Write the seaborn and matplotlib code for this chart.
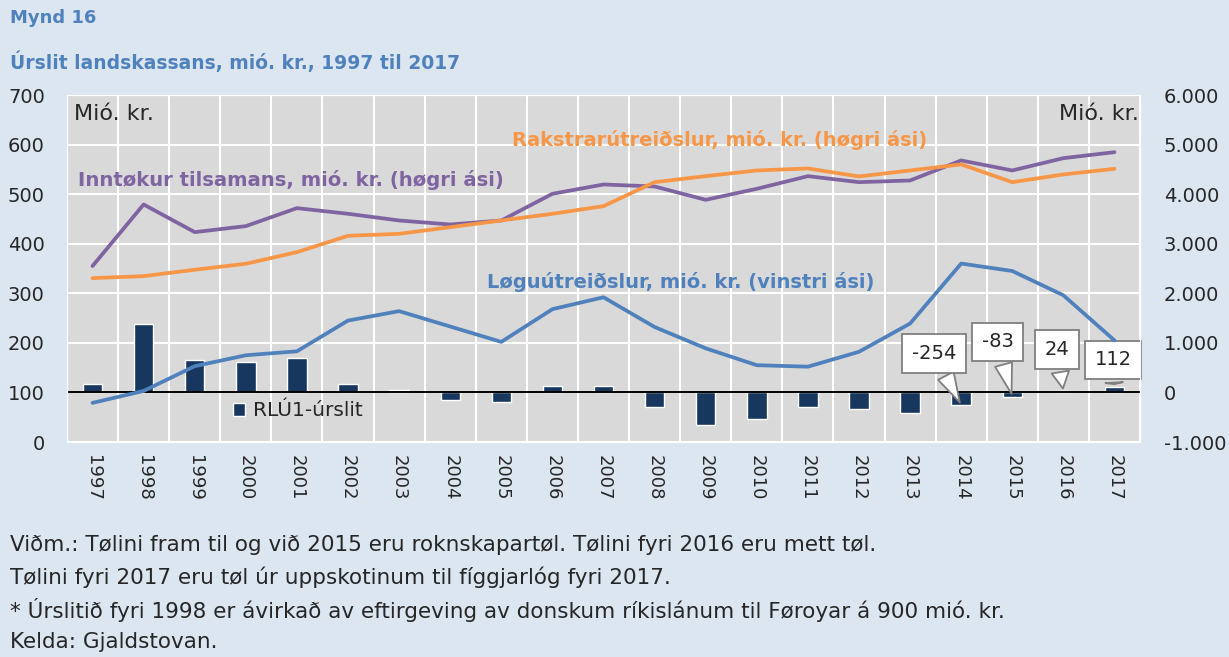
import numpy as np
import pandas as pd
import matplotlib.pyplot as plt
import seaborn as sns
from matplotlib.ticker import FuncFormatter

years = [str(y) for y in range(1997, 2018)]
rlu_result = [175, 1385, 660, 611, 700, 175, 50, -145, -185, 135, 135,
              -296, -665, -545, -296, -343, -417, -254, -83, 24, 112]
revenue = [2550, 3792, 3234, 3355, 3718, 3604, 3469, 3388, 3469, 4007, 4195,
           4155, 3886, 4108, 4363, 4242, 4276, 4680, 4478, 4726, 4847]
operating = [2306, 2346, 2475, 2596, 2830, 3160, 3200, 3334, 3469, 3604, 3758,
             4242, 4363, 4478, 4518, 4357, 4478, 4600, 4242, 4397, 4512]
investment = [79, 103, 153, 175, 183, 245, 264, 233, 202, 268, 292,
              232, 189, 155, 152, 182, 239, 360, 345, 296, 205]
callout_years = ["2014", "2015", "2016", "2017"]
# where the callout boxes sit: (shift in categories, height on right axis)
callout_box = {"2014": (-0.53, 787), "2015": (-0.29, 1019),
               "2016": (-0.13, 867), "2017": (-0.03, 655)}

df = pd.DataFrame({"year": years, "pos": np.arange(len(years)),
                   "rlu": rlu_result, "revenue": revenue,
                   "operating": operating, "investment": investment})

sns.set_style("white")
plt.rcParams["font.family"] = ["DejaVu Sans"]

bg = "#DCE6F1"
blue_txt = "#4F81BD"
c_bar = "#17375E"
c_purple = "#8064A2"
c_orange = "#F79646"
c_blue = "#4F81BD"

fig = plt.figure(figsize=(12.29, 6.57), dpi=100, facecolor=bg)
ax = fig.add_axes([0.0545, 0.3272, 0.8731, 0.5282])
ax2 = ax.twinx()
ax.set_zorder(2)
ax2.set_zorder(1)
ax.patch.set_visible(False)
ax2.patch.set_visible(True)
ax2.patch.set_facecolor("#D9D9D9")

# right axis: result bars and the two big series
sns.barplot(data=df, x="pos", y="rlu", ax=ax2, color=c_bar, width=0.38,
            saturation=1, native_scale=True, label="RLÚ1-úrslit", zorder=2)
sns.lineplot(data=df, x="pos", y="revenue", ax=ax2, color=c_purple, lw=2.7, zorder=3)
sns.lineplot(data=df, x="pos", y="operating", ax=ax2, color=c_orange, lw=2.7, zorder=3)
ax2.axhline(0, color="black", lw=1.4, zorder=2.5)

# left axis: investment line
sns.lineplot(data=df, x="pos", y="investment", ax=ax, color=c_blue, lw=2.7)

ax.set_xlim(-0.5, len(years) - 0.5)
ax.set_ylim(0, 700)
ax2.set_ylim(-1000, 6000)
ax.set_yticks(range(0, 701, 100))
ax2.set_yticks(range(-1000, 6001, 1000))
ax2.yaxis.set_major_formatter(FuncFormatter(lambda v, p: f"{int(v):,}".replace(",", ".")))
ax.set_xticks(df["pos"])
ax.set_xticks(np.arange(-0.5, len(years)), minor=True)
ax.set_xticklabels(years, rotation=-90, fontsize=13)
ax.set_xlabel("")
ax.set_ylabel("")
ax2.set_xlabel("")
ax2.set_ylabel("")
ax.tick_params(axis="both", which="both", length=0)
ax.tick_params(axis="y", labelsize=14, pad=16)
ax.tick_params(axis="x", pad=9)
ax2.tick_params(axis="y", length=0, labelsize=14, pad=17)
ax2.xaxis.set_visible(True)
ax2.tick_params(axis="x", which="both", length=0, labelbottom=False, labeltop=False)
ax2.grid(axis="y", which="major", color="white", lw=1.5, zorder=0)
ax2.grid(axis="x", which="minor", color="white", lw=1.5, zorder=0)
ax2.set_axisbelow(True)
for a in (ax, ax2):
    for s in a.spines.values():
        s.set_color("white")

# callouts for the last four years
for yr in callout_years:
    i = years.index(yr)
    v = rlu_result[i]
    dx, hy = callout_box[yr]
    ax2.annotate(f"{v}", xy=(i, v), xytext=(i + dx, hy),
                 ha="center", va="center", fontsize=14, zorder=5,
                 bbox=dict(boxstyle="square,pad=0.5", fc="white", ec="#7F7F7F", lw=1.3),
                 arrowprops=dict(arrowstyle="wedge,tail_width=0.9,shrink_factor=0.5",
                                 fc="white", ec="#7F7F7F", lw=1.3))

ax2.legend(loc="center left", bbox_to_anchor=(0.138, 0.09), frameon=False,
           fontsize=14.5, handlelength=0.6, handleheight=0.6, handletextpad=0.4)

ax.text(0.007, 0.975, "Mió. kr.", transform=ax.transAxes, fontsize=16, va="top", ha="left")
ax.text(0.999, 0.975, "Mió. kr.", transform=ax.transAxes, fontsize=16, va="top", ha="right")

fig.text(78 / 1229, 1 - 180 / 657, "Inntøkur tilsamans, mió. kr. (høgri ási)", fontsize=14.1,
         fontweight="bold", color=c_purple, va="center")
fig.text(512 / 1229, 1 - 140 / 657, "Rakstrarútreiðslur, mió. kr. (høgri ási)", fontsize=14,
         fontweight="bold", color=c_orange, va="center")
fig.text(487 / 1229, 1 - 282 / 657, "Løguútreiðslur, mió. kr. (vinstri ási)", fontsize=14,
         fontweight="bold", color=c_blue, va="center")

fig.text(10 / 1229, 1 - 18 / 657, "Mynd 16", fontsize=13, fontweight="bold", color=blue_txt, va="center")
fig.text(10 / 1229, 1 - 62 / 657, "Úrslit landskassans, mió. kr., 1997 til 2017", fontsize=13.5,
         fontweight="bold", color=blue_txt, va="center")

notes = ["Viðm.: Tølini fram til og við 2015 eru roknskapartøl. Tølini fyri 2016 eru mett tøl.",
         "Tølini fyri 2017 eru tøl úr uppskotinum til fíggjarlóg fyri 2017.",
         "* Úrslitið fyri 1998 er ávirkað av eftirgeving av donskum ríkislánum til Føroyar á 900 mió. kr.",
         "Kelda: Gjaldstovan."]
for k, line in enumerate(notes):
    fig.text(10 / 1229, 1 - (545 + 32.5 * k) / 657, line, fontsize=15.5, va="center")

plt.savefig("out.png", dpi=100, facecolor=bg)
